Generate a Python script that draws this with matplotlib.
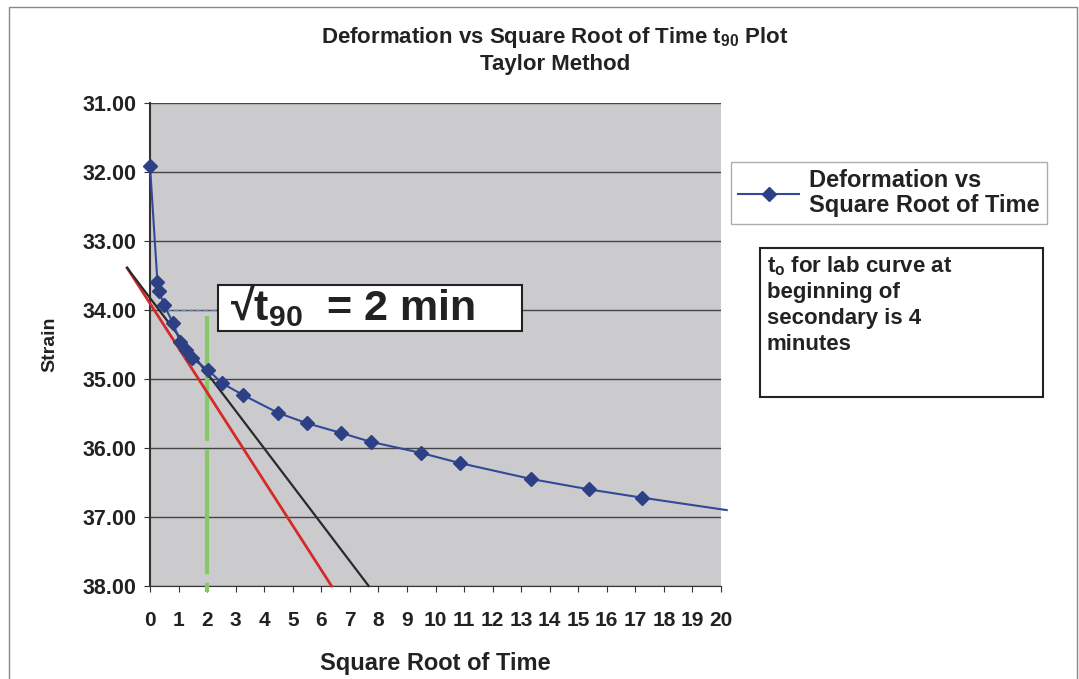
import numpy as np
import matplotlib.pyplot as plt
from matplotlib.patches import Rectangle

plt.rcParams['font.family'] = ['Liberation Sans', 'DejaVu Sans']
plt.rcParams['font.weight'] = 'bold'
plt.rcParams['mathtext.fontset'] = 'custom'
plt.rcParams['mathtext.rm'] = 'Liberation Sans:bold'
plt.rcParams['mathtext.it'] = 'Liberation Sans:bold'
plt.rcParams['mathtext.bf'] = 'Liberation Sans:bold'

# data
sqrt_time = [0, 0.26, 0.33, 0.49, 0.81, 1.05, 1.26, 1.46, 2.04, 2.52, 3.25, 4.48,
             5.49, 6.68, 7.73, 9.48, 10.87, 13.36, 15.38, 17.24, 20.2]
strain = [31.91, 33.59, 33.73, 33.93, 34.19, 34.46, 34.58, 34.70, 34.87, 35.06, 35.23, 35.49,
          35.64, 35.78, 35.91, 36.07, 36.22, 36.45, 36.60, 36.72, 36.90]

# construction lines (Taylor method)
black_x = [-0.80, 7.66]
black_y = [33.39, 38.0]
red_x = [-0.80, 6.36]
red_y = [33.39, 38.0]
t90_x = [2.0, 2.0]
t90_y = [34.09, 38.09]

W, H = 1079, 679
def fx(x): return x / W
def fy(y): return 1 - y / H

fig = plt.figure(figsize=(W / 100, H / 100), dpi=100)
fig.patches.append(Rectangle((fx(9), fy(700)), fx(1068), 700 / H - 7 / H,
                             transform=fig.transFigure, fill=False, ec='#888888', lw=1))

ax = fig.add_axes([fx(150), fy(586), fx(721 - 150), (586 - 103) / H])
ax.set_facecolor('#cbcbcd')
ax.set_xlim(0, 20)
ax.set_ylim(38, 31)
ax.set_xticks(range(0, 21))
ax.set_yticks(range(31, 39))
ax.yaxis.set_major_formatter(plt.FormatStrFormatter('%.2f'))
ax.tick_params(axis='y', labelsize=15.5, length=4, color='#333333', pad=6)
ax.tick_params(axis='x', labelsize=15, length=4, color='#333333', pad=14)
for lab in ax.get_xticklabels() + ax.get_yticklabels():
    lab.set_fontweight('bold')
    lab.set_color('#222222')
ax.grid(axis='y', color='#444444', lw=1)
ax.set_axisbelow(True)
for s in ['top', 'right']:
    ax.spines[s].set_visible(False)
ax.spines['left'].set_color('#333333')
ax.spines['bottom'].set_color('#333333')
ax.spines['left'].set_linewidth(1.5)

ax.plot([0.55, 2.3], [34.0, 34.0], ls='--', color='#6c7fa8', lw=1)
ax.plot(t90_x, t90_y, color='#86c866', lw=3, ls=(0, (30, 2)), clip_on=False, zorder=3)
ax.plot(red_x, red_y, color='#d42a2a', lw=2, clip_on=False, zorder=3)
ax.plot(black_x, black_y, color='#2a2a2a', lw=1.6, clip_on=False, zorder=3)
ax.plot(sqrt_time, strain, color='#34489a', lw=1.5, marker='D', ms=7,
        mfc='#2d3f85', mec='#2d3f85', markevery=list(range(len(strain) - 1)),
        clip_on=False, zorder=4, label='Deformation vs\nSquare Root of Time')

ax.set_xlabel('Square Root of Time', fontsize=17, fontweight='bold', color='#222222', labelpad=16)
ax.set_ylabel('Strain', fontsize=14, fontweight='bold', color='#222222', labelpad=17)

fig.text(fx(555), fy(50), 'Deformation vs Square Root of Time t$_{90}$ Plot\nTaylor Method',
         ha='center', va='center', fontsize=16, fontweight='bold', color='#222222', linespacing=1.2)

# sqrt t90 box
fig.patches.append(Rectangle((fx(218), fy(331)), fx(522 - 218), (331 - 285) / H,
                             transform=fig.transFigure, fc='white', ec='#222222', lw=1.5, zorder=5))
fig.text(fx(230), fy(306), '\u221at$_{90}$  = 2 min', ha='left', va='center', fontsize=31,
         fontweight='bold', color='#222222', zorder=6)

leg = fig.legend(loc='upper left', bbox_to_anchor=(fx(731), fy(162)), fontsize=17,
                 frameon=True, fancybox=False, edgecolor='#999999', handlelength=2.6,
                 handletextpad=0.4, borderpad=0.3, borderaxespad=0, labelspacing=0.3)
leg.get_frame().set_linewidth(1)
for t in leg.get_texts():
    t.set_fontweight('bold')
    t.set_color('#222222')
    t.set_linespacing(1.1)

fig.patches.append(Rectangle((fx(760), fy(397)), fx(1043 - 760), (397 - 248) / H,
                             transform=fig.transFigure, fc='white', ec='#222222', lw=1.5))
fig.text(fx(767), fy(254), 't$_{\\mathregular{o}}$ for lab curve at\nbeginning of\nsecondary is 4\nminutes',
         ha='left', va='top', fontsize=16, fontweight='bold', color='#222222', linespacing=1.3)

fig.savefig('out.png', dpi=100)
